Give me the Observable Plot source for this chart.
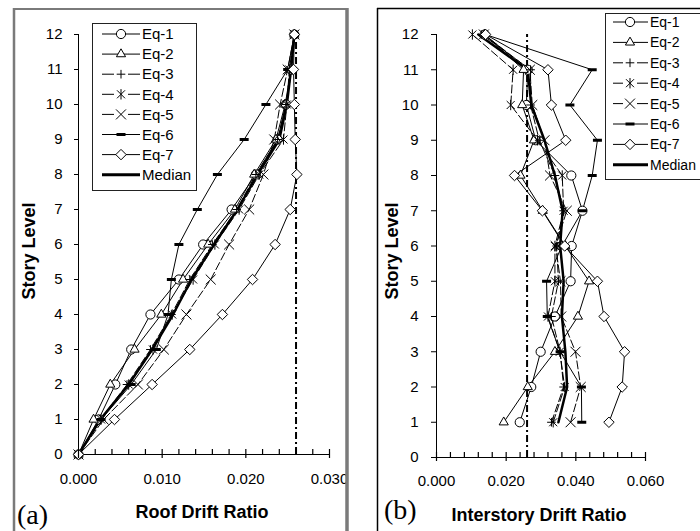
<!DOCTYPE html>
<html><head><meta charset="utf-8">
<script src="https://cdn.jsdelivr.net/npm/d3@7"></script>
<script src="https://cdn.jsdelivr.net/npm/@observablehq/plot@0.6"></script>
<style>
body{margin:0;background:#fff;}
#root{position:relative;width:700px;height:531px;overflow:hidden;background:#fff;}
#root > svg{position:absolute;top:0;}
</style></head>
<body><div id="root"></div>
<script>
// ---------- data ----------
const seriesNames = ["Eq-1","Eq-2","Eq-3","Eq-4","Eq-5","Eq-6","Eq-7"];
const storiesRoof = [0,1,2,3,4,5,6,7,8,9,10,11,12];
const storiesInter = [1,2,3,4,5,6,7,8,9,10,11,12];
const storyTicks = [0,1,2,3,4,5,6,7,8,9,10,11,12];
const roofXTicks = [0, 0.01, 0.02, 0.03];
const interXTicks = [0, 0.02, 0.04, 0.06];
const driftLimit = 0.026;

// (a) Roof drift ratio
const roofEq1 = [0,0.0024,0.0044,0.0063,0.0086,0.0120,0.0149,0.0183,0.0212,0.0238,0.0248,0.0254,0.0258];
const roofEq2 = [0,0.0018,0.0038,0.0067,0.0099,0.0125,0.0155,0.0187,0.0210,0.0236,0.0247,0.0254,0.0258];
const roofEq3 = [0,0.0026,0.0058,0.0086,0.0111,0.0133,0.0160,0.0189,0.0212,0.0238,0.0248,0.0255,0.0258];
const roofEq4 = [0,0.0027,0.0060,0.0089,0.0112,0.0137,0.0163,0.0192,0.0216,0.0245,0.0249,0.0252,0.0258];
const roofEq5 = [0,0.0030,0.0071,0.0102,0.0129,0.0158,0.0180,0.0204,0.0221,0.0234,0.0241,0.0250,0.0258];
const roofEq6 = [0,0.0027,0.0063,0.0093,0.0107,0.0111,0.0120,0.0142,0.0166,0.0198,0.0224,0.0250,0.0258];
const roofEq7 = [0,0.0043,0.0088,0.0133,0.0172,0.0208,0.0235,0.0253,0.0261,0.0259,0.0258,0.0257,0.0258];
const roofMedian = [0,0.0026,0.0060,0.0088,0.0113,0.0135,0.0162,0.0190,0.0214,0.0240,0.0249,0.0254,0.0258];

// (b) Interstory drift ratio
const interEq1 = [0.0239,0.0272,0.0299,0.0340,0.0385,0.0388,0.0419,0.0387,0.0285,0.0258,0.0262,0.0138];
const interEq2 = [0.0193,0.0262,0.0340,0.0406,0.0438,0.0370,0.0305,0.0241,0.0280,0.0246,0.0250,0.0138];
const interEq3 = [0.0330,0.0365,0.0355,0.0330,0.0350,0.0345,0.0365,0.0340,0.0295,0.0270,0.0270,0.0130];
const interEq4 = [0.0335,0.0368,0.0354,0.0320,0.0340,0.0340,0.0365,0.0361,0.0290,0.0213,0.0220,0.0103];
const interEq5 = [0.0385,0.0414,0.0399,0.0358,0.0356,0.0342,0.0374,0.0326,0.0310,0.0275,0.0268,0.0136];
const interEq6 = [0.0417,0.0416,0.0355,0.0318,0.0316,0.0360,0.0419,0.0447,0.0462,0.0383,0.0447,0.0140];
const interEq7 = [0.0495,0.0533,0.0540,0.0481,0.0462,0.0368,0.0304,0.0224,0.0371,0.0330,0.0320,0.0141];
const interMedian = [0.0350,0.0375,0.0370,0.0360,0.0365,0.0355,0.0362,0.0340,0.0310,0.0272,0.0262,0.0120];

// ---------- styles ----------
const starSym = {draw(ctx){const a=4,b=5.2;ctx.moveTo(-a,-a);ctx.lineTo(a,a);ctx.moveTo(-a,a);ctx.lineTo(a,-a);ctx.moveTo(0,-b);ctx.lineTo(0,b);}};
const dashSym = {draw(ctx){ctx.moveTo(-4.5,-1.5);ctx.lineTo(4.5,-1.5);ctx.lineTo(4.5,1.5);ctx.lineTo(-4.5,1.5);ctx.closePath();}};
const styles = {
  "Eq-1": {symbol:"circle", r:4.6, fill:"white", stroke:"black", dash:null, gap:false},
  "Eq-2": {symbol:"triangle", r:3.4, fill:"white", stroke:"black", dash:null, gap:false},
  "Eq-3": {symbol:"plus", r:2.9, fill:"none", stroke:"black", dash:"8,3", gap:true},
  "Eq-4": {symbol:starSym, r:4, fill:"none", stroke:"black", dash:"8,3", gap:true},
  "Eq-5": {symbol:"times", r:4.6, fill:"none", stroke:"black", dash:"8,3", gap:true},
  "Eq-6": {symbol:dashSym, r:4, fill:"black", stroke:"none", dash:null, gap:false},
  "Eq-7": {symbol:"diamond2", r:4.7, fill:"white", stroke:"black", dash:null, gap:false}
};
const FONT = "'Liberation Sans', Arial, sans-serif";

function rows(ys, vs){ return ys.map((s,i)=>({story:s, v:vs[i]})); }

function panel({width, ml, mr, mt, mb, xMax, labelTicks, minorStep, ys, series, median, yTickSize, yPad, xPad}) {
  const minor = d3.range(0, Math.round(xMax/minorStep)+1).map(i => +(i*minorStep).toFixed(4));
  const marks = [
    Plot.ruleY([storyTicks[0]], {stroke:"black", strokeWidth:1}),
    Plot.ruleX([0], {stroke:"black", strokeWidth:1}),
    Plot.axisY({ticks: storyTicks, tickSize: yTickSize, tickPadding: yPad, tickFormat: d3.format("d"), label: null})
  ];
  series.forEach((arr, k) => {
    const st = styles[seriesNames[k]];
    marks.push(Plot.line(rows(ys, arr), {x:"v", y:"story", stroke:"black", strokeWidth:1, strokeDasharray: st.dash || undefined}));
  });
  marks.push(Plot.line(rows(ys, median), {x:"v", y:"story", stroke:"black", strokeWidth:2.5}));
  marks.push(Plot.ruleX([driftLimit], {y1: storyTicks[0], y2: storyTicks[storyTicks.length-1], stroke:"black", strokeWidth:2, strokeDasharray:"7,3,2,3"}));
  series.forEach((arr, k) => {
    const st = styles[seriesNames[k]];
    marks.push(Plot.dot(rows(ys, arr), {x:"v", y:"story", symbol: st.symbol, r: st.r, fill: st.fill, stroke: st.stroke, strokeWidth:1}));
  });
  // x axis: minor ticks pointing up (drawn last, on top), labelled major ticks crossing the axis
  marks.push(Plot.axisX({ticks: minor, anchor: "bottom", tickSize: 5, dy: -5, tickFormat: () => "", label: null, stroke: "black", strokeWidth: 1.2}));
  marks.push(Plot.axisX({ticks: labelTicks, anchor: "bottom", tickSize: 4, tickPadding: xPad, tickFormat: d3.format(".3f"), label: null, stroke: "black", strokeWidth: 1.2}));
  return Plot.plot({
    width, height: 531, marginLeft: ml, marginRight: mr, marginTop: mt, marginBottom: mb,
    x: {domain:[0, xMax]}, y: {domain:[0, 12]},
    style: `background:none;font-family:${FONT};font-size:15px;color:black;overflow:visible;`,
    marks
  });
}

const root = document.getElementById("root");

const left = panel({width:350, ml:78, mr:21, mt:34, mb:77, xMax:0.03, labelTicks: roofXTicks, minorStep:0.002,
  ys: storiesRoof, series:[roofEq1,roofEq2,roofEq3,roofEq4,roofEq5,roofEq6,roofEq7], median: roofMedian,
  yTickSize:4, yPad:12, xPad:15});
left.style.left = "0px";
root.appendChild(left);

const right = panel({width:350, ml:86, mr:55, mt:34, mb:74, xMax:0.06, labelTicks: interXTicks, minorStep:0.004,
  ys: storiesInter, series:[interEq1,interEq2,interEq3,interEq4,interEq5,interEq6,interEq7], median: interMedian,
  yTickSize:5, yPad:13, xPad:14});
right.style.left = "350px";
root.appendChild(right);

// ---------- overlay: frames, legends, titles ----------
const ov = d3.select(root).append("svg").attr("width",700).attr("height",531).style("left","0px")
  .style("font-family", FONT);

// frames
ov.append("line").attr("x1",14).attr("x2",14).attr("y1",8).attr("y2",531).attr("stroke","#7a7a7a").attr("stroke-width",2.5);
ov.append("line").attr("x1",13).attr("x2",348).attr("y1",9).attr("y2",9).attr("stroke","#7a7a7a").attr("stroke-width",2);
ov.append("line").attr("x1",347).attr("x2",347).attr("y1",8).attr("y2",531).attr("stroke","#7a7a7a").attr("stroke-width",3.5);
ov.append("line").attr("x1",377.5).attr("x2",377.5).attr("y1",8).attr("y2",531).attr("stroke","black").attr("stroke-width",1.5);
ov.append("line").attr("x1",377).attr("x2",700).attr("y1",8.5).attr("y2",8.5).attr("stroke","black").attr("stroke-width",1.5);

function legend(bx, by, bw, bh, y0, step, lx0, lx1, mx, tx, fs) {
  const g = ov.append("g");
  g.append("rect").attr("x",bx).attr("y",by).attr("width",bw).attr("height",bh).attr("fill","white").attr("stroke","#222").attr("stroke-width",1);
  seriesNames.forEach((name, i) => {
    const st = styles[name]; const y = y0 + i*step;
    if (st.gap) {
      g.append("line").attr("x1",lx0).attr("x2",mx-7).attr("y1",y).attr("y2",y).attr("stroke","black");
      g.append("line").attr("x1",mx+7).attr("x2",lx1).attr("y1",y).attr("y2",y).attr("stroke","black");
    } else {
      g.append("line").attr("x1",lx0).attr("x2",lx1).attr("y1",y).attr("y2",y).attr("stroke","black");
    }
    const type = typeof st.symbol === "string" ? {circle:d3.symbolCircle, triangle:d3.symbolTriangle, plus:d3.symbolPlus, times:d3.symbolTimes, diamond2:d3.symbolDiamond2}[st.symbol] : st.symbol;
    g.append("path").attr("d", d3.symbol(type, Math.PI*st.r*st.r)()).attr("transform",`translate(${mx},${y})`)
      .attr("fill", st.fill).attr("stroke", st.stroke).attr("stroke-width",1);
    g.append("text").attr("x",tx).attr("y",y).attr("dy","0.35em").attr("font-size",fs).text(name);
  });
  const y = y0 + 7*step;
  g.append("line").attr("x1",lx0).attr("x2",lx1).attr("y1",y).attr("y2",y).attr("stroke","black").attr("stroke-width",3);
  g.append("text").attr("x",tx).attr("y",y).attr("dy","0.35em").attr("font-size",fs).text("Median");
}
legend(92.5, 23.5, 104, 167, 34, 20.1, 102, 140, 121, 142, 15);
legend(605.5, 13.5, 120, 166, 22, 20.4, 613, 648, 630, 650, 14);

// titles
ov.append("text").attr("x",202).attr("y",518).attr("text-anchor","middle").attr("font-weight","bold").attr("font-size",18).text("Roof Drift Ratio");
ov.append("text").attr("x",539).attr("y",521).attr("text-anchor","middle").attr("font-weight","bold").attr("font-size",18).text("Interstory Drift Ratio");
ov.append("text").attr("transform","translate(35,251) rotate(-90)").attr("text-anchor","middle").attr("font-weight","bold").attr("font-size",18).text("Story Level");
ov.append("text").attr("transform","translate(398,251) rotate(-90)").attr("text-anchor","middle").attr("font-weight","bold").attr("font-size",18).text("Story Level");
ov.append("text").attr("x",17).attr("y",524).attr("font-family","'Liberation Serif', 'Times New Roman', serif").attr("font-size",28).text("(a)");
ov.append("text").attr("x",384).attr("y",519).attr("font-family","'Liberation Serif', 'Times New Roman', serif").attr("font-size",28).text("(b)");
</script>
</body></html>
